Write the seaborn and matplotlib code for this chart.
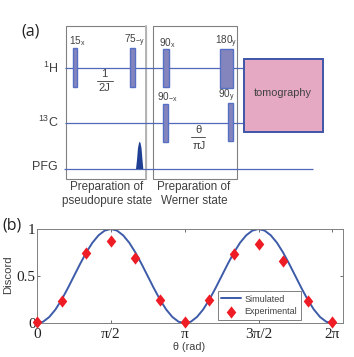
import numpy as np
import pandas as pd
import matplotlib
matplotlib.use("Agg")
import matplotlib.pyplot as plt
from matplotlib.patches import Rectangle, Polygon
from matplotlib.path import Path
import seaborn as sns

sns.set_theme(style="white")
plt.rcParams['font.family'] = ['Liberation Sans', 'DejaVu Sans']
plt.rcParams['mathtext.fontset'] = 'custom'
plt.rcParams['mathtext.rm'] = 'Liberation Sans'
plt.rcParams['mathtext.it'] = 'Liberation Sans'

# --- panel (b) data
exp_theta_sixths = [0, 1, 2, 3, 4, 5, 6, 7, 8, 9, 10, 11, 12]
exp_discord = [0.01, 0.24, 0.75, 0.87, 0.69, 0.25, 0.01, 0.25, 0.73, 0.84, 0.66, 0.235, 0.01]
sim_half = [0, .017, .067, .146, .25, .371, .5, .629, .75, .854, .933, .983, 1,
            .983, .933, .854, .75, .629, .5, .371, .25, .146, .067, .017, 0]
sim_discord = sim_half + sim_half[1:]
x_ticks_pi = [0, 0.5, 1, 1.5, 2]
x_tick_labels = ["0", "π/2", "π", "3π/2", "2π"]
y_ticks = [0, 0.5, 1]
y_tick_labels = ["0", "0.5", "1"]

# --- panel (a) pulse sequence, in picture pixels
line_color = "#5068B8"
pulse_edge = "#5570C4"
pulse_face = "#8585BE"
channels = [("1H", 67.7, 65, 244), ("13C", 122.7, 65, 244), ("PFG", 169, 64, 313)]
pulses = [(73.3, 48.3, 3.4, 39), (130, 48.3, 4.7, 39), (163.3, 48.7, 5.4, 38),
          (162.7, 104, 5.6, 38.3), (220.3, 49, 12.4, 38.7), (227.7, 103, 5.6, 38.3)]
pulse_labels = [(77, 41, r"$\mathregular{15_x}$"), (134, 41, r"$\mathregular{75_{-y}}$"),
                (167, 43, r"$\mathregular{90_x}$"), (167, 97, r"$\mathregular{90_{-x}}$"),
                (226, 42, r"$\mathregular{180_y}$"), (226, 95.5, r"$\mathregular{90_y}$")]
section_boxes = [(66, 25.7, 80, 153.3), (152.5, 25.7, 84.5, 153.3)]
section_labels = [(107, 186.7, "Preparation of"), (107, 201.3, "pseudopure state"),
                  (194, 186.7, "Preparation of"), (194, 201.3, "Werner state")]
row_labels = [(58, 68, r"$\mathregular{^{1}H}$"), (59, 122.5, r"$\mathregular{^{13}C}$"),
              (58, 167.5, "PFG")]
fractions = [(104, 74, 81, 88, "1", "2J", 96.7, 113), (199, 130, 137, 145.7, "θ", "πJ", 191, 205)]
gradient_outline = [(136, 169), (137, 160), (138, 148), (139, 143), (139.7, 141.7),
                    (140.5, 143), (141.5, 148), (142.5, 160), (143.3, 169)]

W, H = 354, 357
fig = plt.figure(figsize=(W / 100, H / 100), dpi=100)
bg = fig.add_axes([0, 0, 1, 1])
bg.set_xlim(0, W)
bg.set_ylim(H, 0)
bg.axis("off")

txt = "#404040"
for x, y, w, h in section_boxes:
    bg.add_patch(Rectangle((x, y), w, h, fill=False, ec="#808080", lw=0.8))
bg.plot([146, 146], [25.7, 179], color="#B4B4B4", lw=1.4)
for name, y, x0, x1 in channels:
    bg.plot([x0, x1], [y, y], color=line_color, lw=0.9, solid_capstyle="butt")
for x, y, w, h in pulses:
    bg.add_patch(Rectangle((x, y), w, h, fc=pulse_face, ec=pulse_edge, lw=1.0, zorder=3))
for x, y, s in pulse_labels:
    bg.text(x, y, s, ha="center", va="center", fontsize=7.2, color=txt)
for x, y, s in row_labels:
    bg.text(x, y, s, ha="right", va="center", fontsize=9, color=txt)
for x, y, s in section_labels:
    bg.text(x, y, s, ha="center", va="center", fontsize=8.4, color=txt)
for x, ya, yl, yb, a, b, x0, x1 in fractions:
    bg.text(x, ya, a, ha="center", va="center", fontsize=8, color=txt)
    bg.plot([x0, x1], [yl, yl], color="#555555", lw=0.7)
    bg.text(x, yb, b, ha="center", va="center", fontsize=8, color=txt)
bg.add_patch(Polygon(gradient_outline, fc="#1F3F94", ec="none", zorder=3))
bg.add_patch(Rectangle((244.3, 59), 78.4, 73, fc="#E6A9C4", ec="#3F55A8", lw=1.4, zorder=3))
bg.text(283, 93.5, "tomography", ha="center", va="center", fontsize=7.8, color=txt, zorder=4)
bg.text(21, 31, "(a)", ha="left", va="center", fontsize=11.5, color="#222222",
        family=["Open Sans", "DejaVu Sans"])
bg.text(2, 226, "(b)", ha="left", va="center", fontsize=11.5, color="#222222",
        family=["Open Sans", "DejaVu Sans"])

# --- panel (b)
L, R, T, B = 37, 343, 229, 323.3
ax = fig.add_axes([L / W, 1 - B / H, (R - L) / W, (B - T) / H])
ax.patch.set_alpha(0)
sim = pd.DataFrame({"theta": np.arange(len(sim_discord)) * np.pi / 24, "discord": sim_discord})
exp = pd.DataFrame({"theta": np.array(exp_theta_sixths) * np.pi / 6, "discord": exp_discord})
diamond = Path([(-0.78, 0), (0, 1), (0.78, 0), (0, -1), (-0.78, 0)], closed=True)
sns.lineplot(data=sim, x="theta", y="discord", ax=ax, color="#3D5BA9", lw=1.4, label="Simulated")
sns.scatterplot(data=exp, x="theta", y="discord", ax=ax, marker=diamond, color="#EE1C25",
                s=60, linewidth=0, label="Experimental", zorder=5, clip_on=False)
for c in ax.collections:
    c.set_sizes([78])
ax.set_xlim(0, 6.51)
ax.set_ylim(0, 1)
ax.set_xticks(np.array(x_ticks_pi) * np.pi)
ax.set_xticklabels(x_tick_labels, family=["Liberation Serif"], fontsize=11, color="#222222")
ax.set_yticks(y_ticks)
ax.set_yticklabels(y_tick_labels, family=["Liberation Serif"], fontsize=11, color="#222222")
ax.tick_params(axis="both", direction="in", length=2.5, width=0.6, color="#555555",
               top=True, right=True, left=True, bottom=True)
ax.tick_params(axis="x", pad=3.5)
ax.tick_params(axis="y", pad=1)
for s in ax.spines.values():
    s.set_color("#808080")
    s.set_linewidth(0.7)
ax.set_xlabel("θ (rad)", fontsize=7.8, color=txt)
ax.xaxis.set_label_coords((189 - L) / (R - L), -(347 - B) / (B - T), transform=ax.transAxes)
ax.xaxis.label.set_va("center")
ax.set_ylabel("Discord", fontsize=8.2, color=txt)
ax.yaxis.set_label_coords(-(L - 8.5) / (R - L), (B - 275) / (B - T), transform=ax.transAxes)
ax.yaxis.label.set_va("center")
leg = ax.legend(loc="lower left", bbox_to_anchor=((217.7 - L) / (R - L), (B - 320) / (B - T)),
                frameon=True, fancybox=False, fontsize=6.5, framealpha=1,
                edgecolor="#808080", borderpad=0.42, labelspacing=0.4, handlelength=2.2,
                handletextpad=0.35, borderaxespad=0)
leg.get_frame().set_linewidth(0.7)
for t in leg.get_texts():
    t.set_color(txt)

fig.savefig("out.png", dpi=100)
